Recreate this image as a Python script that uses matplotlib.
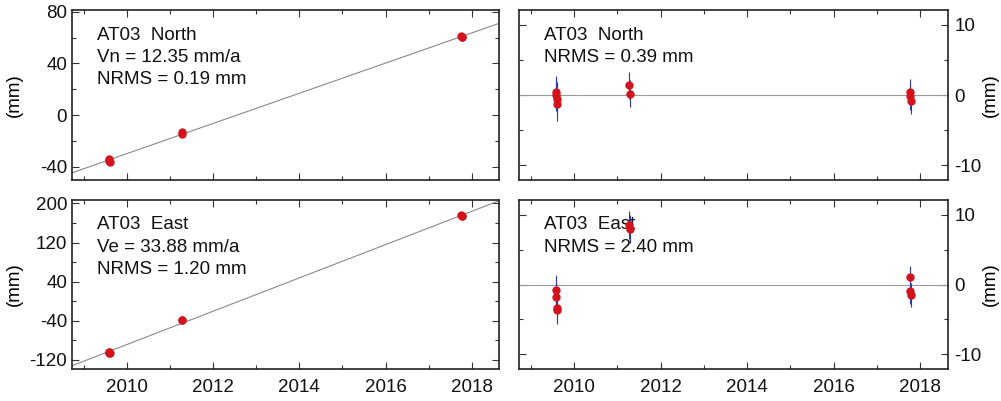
import matplotlib
matplotlib.use("Agg")
import matplotlib.pyplot as plt
import numpy as np

plt.rcParams['font.family'] = ['Liberation Sans', 'DejaVu Sans']
plt.rcParams['font.size'] = 13.5
plt.rcParams['axes.unicode_minus'] = False

# epochs of the individual daily solutions
t_obs = [2009.58, 2009.59, 2009.60, 2009.61, 2011.28, 2011.29, 2017.76, 2017.77, 2017.78]

# North component
north_pos = [-34.0, -34.8, -35.4, -36.2, -13.4, -14.8, 61.6, 60.9, 60.3]
north_res = [0.5, 0.0, -0.5, -1.3, 1.4, 0.2, 0.5, -0.2, -0.9]
north_sig = [2.2, 2.3, 2.3, 2.4, 1.9, 1.9, 1.8, 1.9, 1.8]

# East component
east_pos = [-104.0, -105.0, -106.0, -106.6, -38.2, -39.0, 176.0, 175.0, 174.6]
east_res = [-0.8, -1.8, -3.3, -3.7, 8.5, 8.0, 1.1, -1.0, -1.5]
east_sig = [2.1, 2.2, 2.0, 2.0, 2.0, 2.0, 1.6, 1.8, 1.7]

site = "AT03"
comp_names = ["North", "East"]
vel_labels = ["Vn = 12.35 mm/a", "Ve = 33.88 mm/a"]
nrms_pos = ["NRMS = 0.19 mm", "NRMS = 1.20 mm"]
nrms_res = ["NRMS = 0.39 mm", "NRMS = 2.40 mm"]

xlim = (2008.73, 2018.63)
pos_ylims = [(-50.5, 81.5), (-139, 207)]
pos_yticks = [[-40, 0, 40, 80], [-120, -40, 40, 120, 200]]
pos_minor = [20, 40]
res_yticks = [-10, 0, 10]

fig = plt.figure(figsize=(10.01, 4.01), dpi=100)

boxes = {
    (0, 0): [0.0719, 0.551, 0.4266, 0.424],
    (0, 1): [0.5185, 0.551, 0.4282, 0.424],
    (1, 0): [0.0719, 0.0798, 0.4266, 0.4214],
    (1, 1): [0.5185, 0.0798, 0.4282, 0.4214],
}


def style_axis(ax, yticks, minor):
    ax.set_xlim(*xlim)
    ax.set_xticks([2010, 2012, 2014, 2016, 2018])
    ax.xaxis.set_minor_locator(matplotlib.ticker.MultipleLocator(1))
    ax.set_yticks(yticks)
    ax.yaxis.set_minor_locator(matplotlib.ticker.MultipleLocator(minor))
    ax.tick_params(which='both', direction='in', top=True, right=True,
                   colors='#333333', labelcolor='#111111', width=0.8)
    ax.tick_params(which='major', length=5)
    ax.tick_params(which='minor', length=3)
    for s in ax.spines.values():
        s.set_linewidth(1.2)
        s.set_color('#222222')


def put_lines(ax, lines):
    for i, txt in enumerate(lines):
        ax.text(0.058, 0.853 - i * 0.132, txt, transform=ax.transAxes,
                va='center', ha='left', color='#111111', zorder=1)


data = [(north_pos, north_res, north_sig), (east_pos, east_res, east_sig)]

for row, (pos, res, sig) in enumerate(data):
    t = np.array(t_obs)
    # position time series with linear fit
    ax = fig.add_axes(boxes[(row, 0)])
    style_axis(ax, pos_yticks[row], pos_minor[row])
    ax.set_ylim(*pos_ylims[row])
    coef = np.polyfit(t, pos, 1)
    tl = np.array(xlim)
    ax.plot(tl, np.polyval(coef, tl), color='#8a8a8a', lw=0.8, zorder=2)
    ax.errorbar(t, pos, yerr=sig, fmt='none', ecolor='#2a3aa8', elinewidth=0.8,
                capsize=0, zorder=3)
    ax.plot(t, pos, 'o', color='#d4121c', ms=6, mec='none', zorder=4)
    ax.set_ylabel("(mm)")
    ax.yaxis.set_label_coords(-0.115, 0.5)
    ax.tick_params(axis='x', pad=7)
    put_lines(ax, [f"{site}  {comp_names[row]}", vel_labels[row], nrms_pos[row]])
    if row == 0:
        ax.tick_params(labelbottom=False)

    # residual time series
    ax = fig.add_axes(boxes[(row, 1)])
    style_axis(ax, res_yticks, 5)
    ax.set_ylim(-12.1, 12.1)
    ax.axhline(0, color='#9a9a9a', lw=0.8, zorder=2)
    ax.errorbar(t, res, yerr=sig, fmt='none', ecolor='#2a3aa8', elinewidth=0.8,
                capsize=0, zorder=3)
    ax.plot(t, res, 'o', color='#d4121c', ms=6, mec='none', zorder=4)
    ax.yaxis.tick_right()
    ax.tick_params(which='both', left=True)
    ax.tick_params(axis='y', pad=5)
    ax.tick_params(axis='x', pad=7)
    ax.yaxis.set_label_position('right')
    ax.set_ylabel("(mm)", labelpad=0)
    put_lines(ax, [f"{site}  {comp_names[row]}", nrms_res[row]])
    if row == 0:
        ax.tick_params(labelbottom=False)

fig.savefig("out.png", dpi=100)
